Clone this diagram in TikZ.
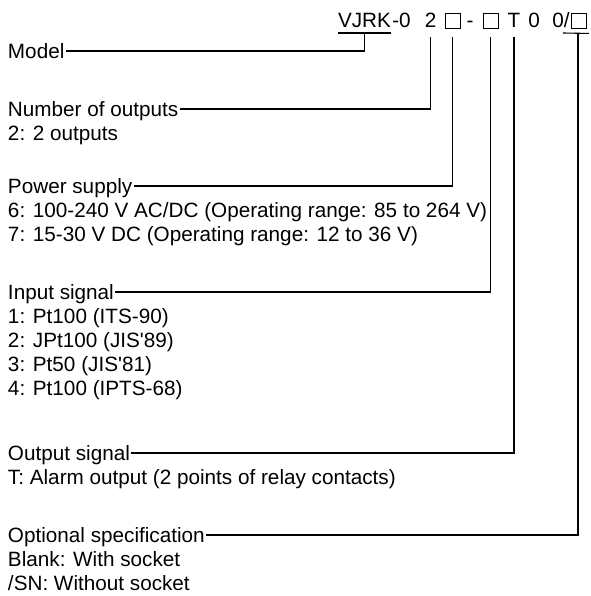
\documentclass[tikz,border=0pt]{standalone}
\usepackage{fontspec}
\setmainfont{Liberation Sans}
\begin{document}
\begin{tikzpicture}[x=1pt,y=-1pt]
	\tikzset{txt/.style = {anchor=west, inner sep=0pt, outer xsep=1.5pt, text height=15pt, text depth=0pt, font=\fontsize{20.7}{24}\selectfont},
		codechar/.style = {anchor=base, inner sep=0pt, font=\fontsize{20.7}{24}\selectfont},
		slot/.style = {draw, line width=.9pt, minimum size=15pt, inner sep=0pt},
		lead/.style = {line width=1.1pt}}
	\useasboundingbox (0,0) rectangle (590,596);
	% Model code
	\node[codechar] (V) at (364.5,28) {VJRK};
	\node[codechar] (Z0) at (401.5,28) {-0};
	\node[codechar] (N) at (430.5,28) {2};
	\node[slot] (B1) at (452.5,20.5) {};
	\node[codechar] (H) at (470,28) {-};
	\node[slot] (B2) at (490.5,20.5) {};
	\node[codechar] (T) at (514,28) {T};
	\node[codechar] (Z1) at (534,28) {0};
	\node[codechar] (Z2) at (561,28) {0/};
	\node[slot] (B3) at (579,20.5) {};
	\draw[lead] ([yshift=-5pt]V.base west) -- ([yshift=-5pt]V.base east);
	\draw[lead] ([xshift=-7pt,yshift=-5pt]Z2.base east) -- ([xshift=2pt,yshift=-5pt]B3.south east);
	% Headings and choices
	\node[txt] (Mod) at (6.5,51) {Model};
	\node[txt] (Num) at (6.5,109) {Number of outputs};
	\node[txt] (Num1) at (6.5,133) {2: 2 outputs};
	\node[txt] (Pow) at (6.5,186) {Power supply};
	\node[txt] (Pow1) at (6.5,210) {6: 100-240 V AC/DC (Operating range: 85 to 264 V)};
	\node[txt] (Pow2) at (6.5,234) {7: 15-30 V DC (Operating range: 12 to 36 V)};
	\node[txt] (Inp) at (6.5,292) {Input signal};
	\node[txt] (Inp1) at (6.5,316) {1: Pt100 (ITS-90)};
	\node[txt] (Inp2) at (6.5,340) {2: JPt100 (JIS\textquotesingle89)};
	\node[txt] (Inp3) at (6.5,364) {3: Pt50 (JIS\textquotesingle81)};
	\node[txt] (Inp4) at (6.5,388) {4: Pt100 (IPTS-68)};
	\node[txt] (Out) at (6.5,453) {Output signal};
	\node[txt] (Out1) at (6.5,477) {T: Alarm output (2 points of relay contacts)};
	\node[txt] (Opt) at (6.5,535) {Optional specification};
	\node[txt] (Opt1) at (6.5,559) {Blank: With socket};
	\node[txt] (Opt2) at (6.5,583) {/SN: Without socket};
	% Leaders
	\draw[lead] (Mod.east) -| ([yshift=-5pt]V.base);
	\draw[lead] (Num.east) -| ([yshift=-9pt]N.base);
	\draw[lead] (Pow.east) -| ([yshift=-9pt]B1.south);
	\draw[lead] (Inp.east) -| ([yshift=-9pt]B2.south);
	\draw[lead] (Out.east) -| ([yshift=-9pt]T.base);
	\draw[lead] (Opt.east) -| ([xshift=-1pt,yshift=-5pt]B3.south);
\end{tikzpicture}
\end{document}
